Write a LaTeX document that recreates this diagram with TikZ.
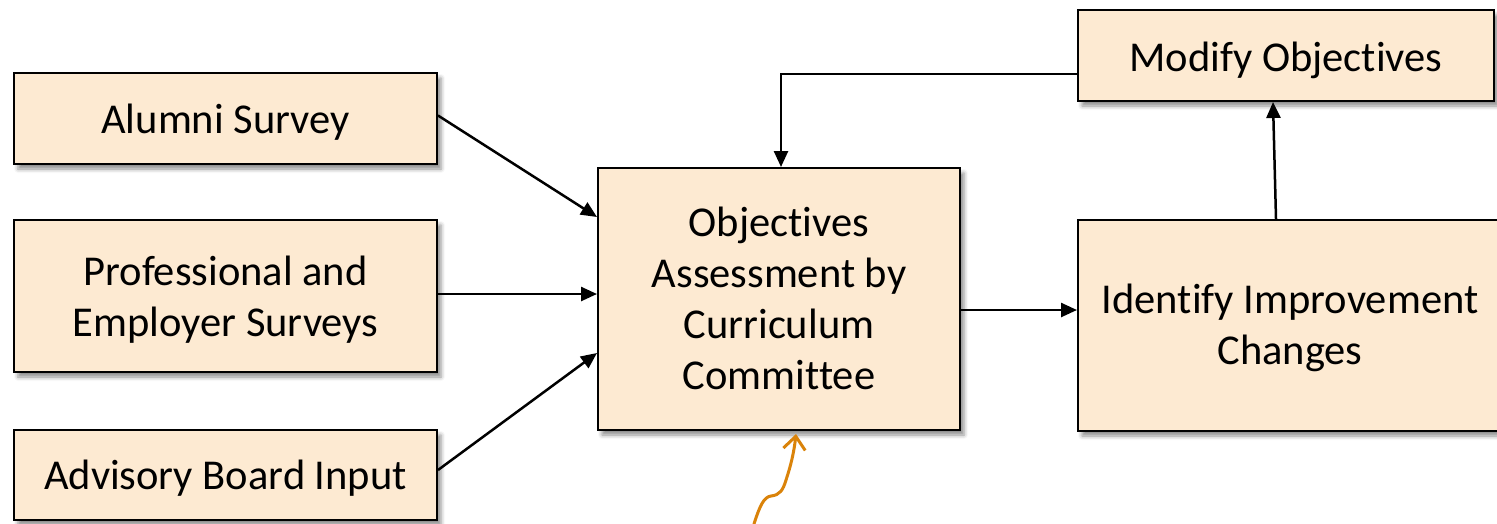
\documentclass[tikz,border=0pt]{standalone}
\usepackage{fontspec}
\setmainfont{Carlito}[Ligatures=NoCommon]
\usetikzlibrary{arrows.meta,calc,shadows.blur}
\definecolor{boxfill}{RGB}{253,234,210}
\definecolor{inkorange}{RGB}{218,131,10}
% box text: centred lines, nudged down by half of the optional amount
\newcommand\boxlabel[2][9pt]{\raisebox{0pt}[\height][\dimexpr\depth-#1\relax]{%
  \begin{tabular}{@{}c@{}}#2\end{tabular}}}
\tikzset{
  stepbox/.style={draw=black, line width=2pt, fill=boxfill,
    inner sep=0pt, font=\fontsize{42.5pt}{51pt}\selectfont,
    blur shadow={shadow xshift=4pt, shadow yshift=-5pt, shadow blur radius=4pt, shadow opacity=45}},
  flow/.style={line width=2.5pt, -{Triangle[length=16pt,width=14pt]}},
  ink/.style={draw=inkorange, line width=3pt, line cap=round,
    -{Straight Barb[length=13pt,width=22pt,line width=3pt]}}
}
\begin{document}
\begin{tikzpicture}[x=1pt,y=-1pt]
\useasboundingbox (0,0) rectangle (1497,523);
\clip (0,0) rectangle (1497,523);
% input sources
\node[stepbox, minimum width=423pt, minimum height=91pt] (alumni) at (225.5,118.5) {\boxlabel{Alumni Survey}};
\node[stepbox, minimum width=423pt, minimum height=152pt] (prof) at (225.5,296) {\boxlabel{Professional and\\Employer Surveys}};
\node[stepbox, minimum width=423pt, minimum height=90pt] (adv) at (225.5,475) {\boxlabel{Advisory Board Input}};
% committee
\node[stepbox, minimum width=362pt, minimum height=262pt] (obj) at (779,299) {\boxlabel[7pt]{Objectives\\Assessment by\\Curriculum\\Committee}};
% outcomes
\node[stepbox, minimum width=424pt, minimum height=211pt] (ident) at (1290,325.5) {\boxlabel[6pt]{Identify Improvement\\Changes}};
\node[stepbox, minimum width=416pt, minimum height=91pt] (mod) at (1286,55.5) {\boxlabel[12pt]{Modify Objectives}};
% connectors
\draw[flow] ($(alumni.east)+(0,-3)$) -- ($(obj.north west)+(0,50)$);
\draw[flow] ($(prof.east)+(0,-2)$) -- ($(prof.east -| obj.west)+(0,-2)$);
\draw[flow] ($(adv.east)+(0,-5)$) -- ($(obj.south west)+(0,-78)$);
\coordinate (o2i) at ($(obj.east)+(0,11)$);
\draw[flow] (o2i) -- (o2i -| ident.west);
\draw[flow] ($(ident.north)+(-14,0)$) -- ($(mod.south)+(-13,0)$);
\coordinate (m2o) at ($(mod.south west)+(0,-28)$);
\draw[flow] (m2o) -| ($(obj.north)+(2,0)$);
% hand-drawn pointer
\coordinate (inkstart) at (754,524);
\draw[ink] (inkstart) .. controls (760,505) and (764,497) .. (771,496)
  .. controls (780,495) and (783,490) .. (786,480)
  .. controls (791,465) and (794,452) .. ($(obj.south)+(17,3)$);
\end{tikzpicture}
\end{document}
